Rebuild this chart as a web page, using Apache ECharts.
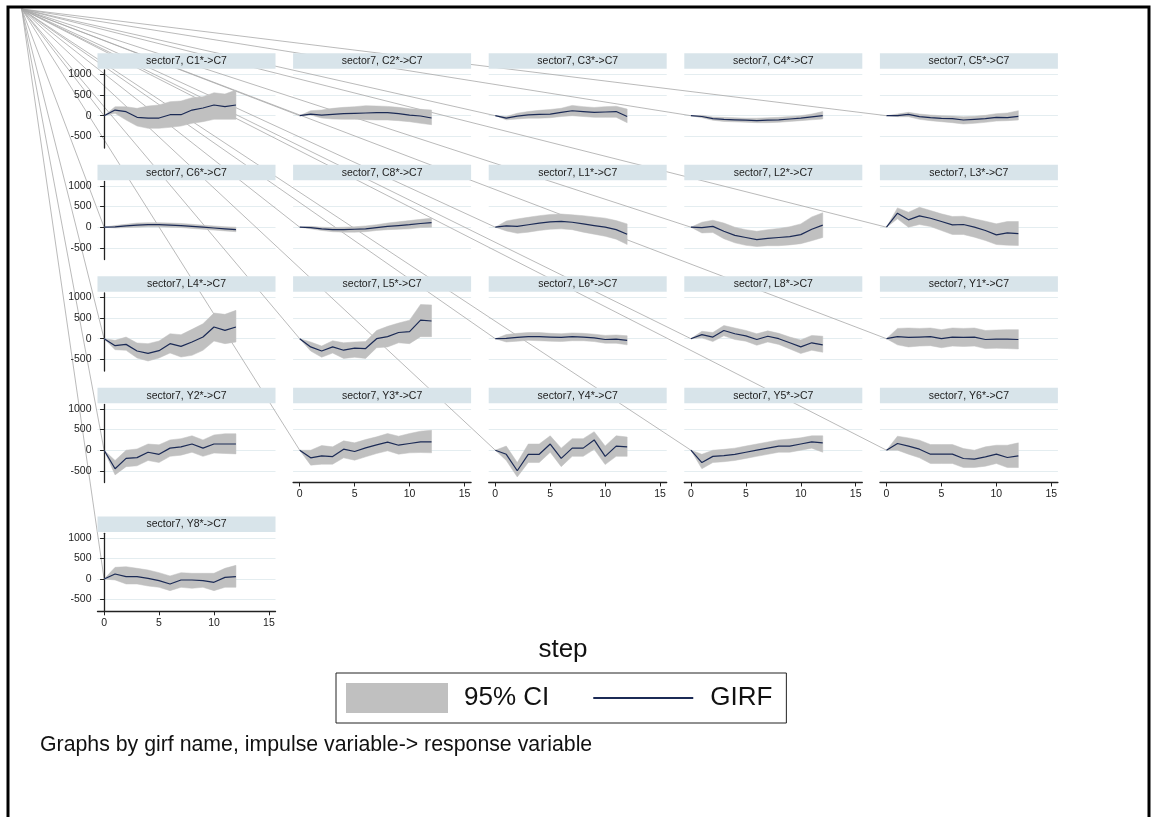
<!DOCTYPE html>
<html>
<head>
<meta charset="utf-8">
<script src="https://cdn.jsdelivr.net/npm/echarts@6/dist/echarts.min.js"></script>
<style>
  html, body { margin: 0; padding: 0; background: #fff; }
  #main { width: 1154px; height: 817px; }
</style>
</head>
<body>
<div id="main"></div>
<script>
// steps and axis ticks
const steps = [0, 1, 2, 3, 4, 5, 6, 7, 8, 9, 10, 11, 12];
const xTicks = [0, 5, 10, 15];
const yTicks = [-500, 0, 500, 1000];

// GIRF point estimates and 95% bounds, one set per panel
const girf_C1 = [0, 137, 97, -40, -57, -57, 24, 24, 137, 186, 259, 218, 259];
const lo_C1 = [0, 57, -105, -251, -307, -307, -283, -251, -186, -146, -89, -89, -89];
const hi_C1 = [0, 218, 218, 178, 235, 259, 340, 356, 437, 461, 558, 526, 623];

const girf_C2 = [0, 40, 16, 32, 49, 57, 65, 73, 73, 49, 16, -8, -57];
const lo_C2 = [0, 16, -57, -81, -89, -89, -97, -105, -105, -121, -146, -186, -218];
const hi_C2 = [0, 121, 138, 178, 202, 218, 243, 235, 226, 202, 170, 154, 138];

const girf_C3 = [0, -60, -10, 20, 30, 40, 80, 120, 100, 80, 90, 100, -20];
const lo_C3 = [0, -100, -80, -60, -60, -50, -20, 0, -20, -40, -40, -40, -170];
const hi_C3 = [0, -20, 60, 100, 130, 150, 180, 250, 220, 200, 220, 230, 160];

const girf_C4 = [0, -20, -70, -90, -100, -110, -120, -110, -100, -80, -60, -30, 0];
const lo_C4 = [0, -50, -110, -140, -150, -160, -170, -170, -160, -140, -120, -100, -80];
const hi_C4 = [0, 10, -30, -40, -50, -60, -60, -50, -40, -20, 0, 40, 100];

const girf_C5 = [0, 0, 32, -24, -49, -65, -73, -105, -89, -73, -40, -49, -16];
const lo_C5 = [0, -24, -24, -89, -121, -146, -170, -202, -186, -162, -130, -121, -105];
const hi_C5 = [0, 40, 81, 40, 16, 0, -8, -24, -16, 8, 49, 65, 121];

const girf_C6 = [0, 10, 30, 50, 60, 60, 50, 40, 20, 0, -20, -40, -60];
const lo_C6 = [0, -20, -10, 0, 10, 10, 0, -10, -30, -50, -70, -90, -110];
const hi_C6 = [0, 40, 70, 100, 110, 110, 100, 90, 70, 50, 30, 10, 0];

const girf_C8 = [0, -10, -40, -60, -60, -50, -40, -10, 20, 40, 60, 90, 110];
const lo_C8 = [0, -40, -80, -110, -120, -120, -110, -80, -60, -50, -40, -10, 0];
const hi_C8 = [0, 20, 0, -10, 0, 10, 30, 60, 100, 130, 160, 190, 220];

const girf_L1 = [0, 30, 20, 60, 100, 130, 140, 120, 80, 40, 0, -60, -170];
const lo_L1 = [0, -90, -150, -120, -80, -50, -40, -60, -120, -170, -220, -290, -420];
const hi_L1 = [0, 150, 200, 240, 280, 310, 320, 300, 280, 250, 220, 160, 80];

const girf_L2 = [0, -10, 20, -100, -200, -250, -300, -270, -250, -230, -180, -50, 50];
const lo_L2 = [0, -140, -130, -280, -380, -440, -470, -450, -450, -430, -400, -330, -250];
const hi_L2 = [0, 120, 170, 100, 0, -60, -100, -60, -30, 10, 80, 250, 350];

const girf_L3 = [0, 340, 178, 275, 218, 138, 57, 65, 0, -81, -186, -138, -154];
const lo_L3 = [0, 202, 0, 65, 16, -81, -178, -178, -243, -324, -421, -437, -445];
const hi_L3 = [0, 469, 364, 485, 405, 324, 259, 267, 202, 146, 81, 138, 138];

const girf_L4 = [0, -170, -138, -299, -356, -291, -121, -186, -81, 40, 283, 202, 283];
const lo_L4 = [0, -267, -283, -469, -542, -469, -348, -445, -405, -283, -57, -121, -81];
const hi_L4 = [0, -40, 40, -105, -121, -57, 121, 97, 227, 364, 623, 591, 688];

const girf_L5 = [0, -200, -300, -200, -280, -230, -240, 0, 50, 150, 170, 450, 430];
const lo_L5 = [0, -300, -450, -350, -480, -450, -480, -220, -200, -100, -120, 50, 50];
const hi_L5 = [0, -80, -180, -50, -100, -80, -70, 200, 300, 380, 450, 830, 820];

const girf_L6 = [0, 10, 30, 50, 50, 40, 30, 50, 40, 20, -20, -10, -40];
const lo_L6 = [0, -80, -60, -40, -50, -60, -70, -50, -50, -70, -110, -110, -150];
const hi_L6 = [0, 100, 130, 150, 150, 130, 120, 140, 130, 110, 80, 90, 70];

const girf_L8 = [0, 100, 40, 200, 120, 70, -20, 60, 0, -100, -200, -100, -150];
const lo_L8 = [0, 20, -70, 70, -20, -60, -160, -80, -140, -250, -360, -280, -330];
const hi_L8 = [0, 180, 150, 320, 260, 200, 120, 190, 130, 40, -30, 80, 60];

const girf_Y1 = [0, 50, 30, 40, 50, 0, 40, 30, 40, -20, -10, -10, -20];
const lo_Y1 = [0, -150, -200, -180, -170, -220, -180, -190, -180, -240, -230, -240, -250];
const hi_Y1 = [0, 250, 260, 250, 260, 220, 260, 250, 260, 200, 210, 220, 220];

const girf_Y2 = [0, -450, -200, -180, -50, -100, 50, 80, 150, 50, 150, 150, 150];
const lo_Y2 = [0, -600, -400, -380, -250, -300, -150, -120, -50, -150, -70, -80, -90];
const hi_Y2 = [0, -250, 0, 30, 150, 130, 250, 280, 350, 250, 370, 400, 400];

const girf_Y3 = [0, -186, -138, -154, 24, -32, 57, 129, 194, 121, 162, 202, 202];
const lo_Y3 = [0, -364, -340, -340, -186, -243, -162, -81, -16, -97, -65, -57, -65];
const hi_Y3 = [0, 0, 113, 81, 227, 178, 259, 324, 405, 340, 405, 461, 485];

const girf_Y4 = [0, -100, -500, -100, -100, 150, -200, 50, 50, 250, -150, 100, 80];
const lo_Y4 = [0, -250, -650, -300, -300, -50, -400, -150, -150, 20, -350, -150, -150];
const hi_Y4 = [0, 100, -300, 150, 150, 350, 50, 280, 280, 450, 100, 350, 320];

const girf_Y5 = [0, -300, -150, -130, -100, -50, 0, 50, 100, 100, 150, 200, 180];
const lo_Y5 = [0, -450, -300, -280, -250, -200, -150, -100, -50, -50, 0, 50, -50];
const hi_Y5 = [0, -100, 0, 20, 50, 100, 150, 200, 250, 270, 300, 350, 350];

const girf_Y6 = [0, 162, 97, 24, -97, -97, -97, -202, -218, -162, -97, -178, -138];
const lo_Y6 = [0, 0, -97, -186, -324, -324, -324, -421, -421, -389, -324, -421, -421];
const hi_Y6 = [0, 340, 299, 243, 138, 138, 138, 40, 0, 81, 121, 121, 178];

const girf_Y8 = [0, 121, 57, 57, 16, -40, -121, -24, -24, -40, -81, 40, 57];
const lo_Y8 = [0, -24, -121, -121, -170, -202, -283, -202, -227, -202, -283, -202, -202];
const hi_Y8 = [0, 283, 299, 259, 218, 154, 73, 154, 138, 138, 138, 259, 332];

const panels = [
  ['C1', girf_C1, lo_C1, hi_C1], ['C2', girf_C2, lo_C2, hi_C2], ['C3', girf_C3, lo_C3, hi_C3],
  ['C4', girf_C4, lo_C4, hi_C4], ['C5', girf_C5, lo_C5, hi_C5], ['C6', girf_C6, lo_C6, hi_C6],
  ['C8', girf_C8, lo_C8, hi_C8], ['L1', girf_L1, lo_L1, hi_L1], ['L2', girf_L2, lo_L2, hi_L2],
  ['L3', girf_L3, lo_L3, hi_L3], ['L4', girf_L4, lo_L4, hi_L4], ['L5', girf_L5, lo_L5, hi_L5],
  ['L6', girf_L6, lo_L6, hi_L6], ['L8', girf_L8, lo_L8, hi_L8], ['Y1', girf_Y1, lo_Y1, hi_Y1],
  ['Y2', girf_Y2, lo_Y2, hi_Y2], ['Y3', girf_Y3, lo_Y3, hi_Y3], ['Y4', girf_Y4, lo_Y4, hi_Y4],
  ['Y5', girf_Y5, lo_Y5, hi_Y5], ['Y6', girf_Y6, lo_Y6, hi_Y6], ['Y8', girf_Y8, lo_Y8, hi_Y8]
];

const FONT = "'Liberation Sans', Arial, sans-serif";
const GRID_COLOR = '#e4edf0';
const BAND_COLOR = '#c0c0c0';
const LINE_COLOR = '#1b2a55';

// panel layout (5 columns)
const colLeft = c => 97.5 + c * 195.6;
const rowTop = r => r < 4 ? 70 + r * 111.5 : 533.3;
const GW = 178, GH = 78;

let myChart = echarts.init(document.getElementById('main'));

// CI band: one polygon through all the bounds of a panel
function renderBand(params, api) {
  if (params.dataIndexInside !== 0) return null;
  const n = params.dataInsideLength;
  let upper = [], lower = [];
  for (let j = 0; j < n; j++) {
    upper.push(api.coord([api.value(0, j), api.value(2, j)]));
    lower.push(api.coord([api.value(0, j), api.value(1, j)]));
  }
  return {
    type: 'polygon',
    shape: { points: upper.concat(lower.reverse()) },
    style: { fill: BAND_COLOR, stroke: BAND_COLOR, lineWidth: 0.5 }
  };
}

let grids = [], xAxes = [], yAxes = [], series = [];
panels.forEach((p, i) => {
  const r = Math.floor(i / 5), c = i % 5;
  const firstCol = c === 0;
  const bottom = (r === 3 && c > 0) || r === 4;
  grids.push({ left: colLeft(c), top: rowTop(r), width: GW, height: GH });
  xAxes.push({
    type: 'value', gridIndex: i, min: -0.6, max: 15.6,
    axisLine: { show: bottom, onZero: false, lineStyle: { color: '#222', width: 1.3 } },
    axisTick: { show: bottom, length: 4, customValues: xTicks, lineStyle: { color: '#222' } },
    axisLabel: { show: bottom, customValues: xTicks, margin: 6, fontSize: 10.5, color: '#222', fontFamily: FONT },
    splitLine: { show: false }
  });
  yAxes.push({
    type: 'value', gridIndex: i, min: -785, max: 1110,
    axisLine: { show: firstCol, lineStyle: { color: '#222', width: 1.3 } },
    axisTick: { show: firstCol, length: 4, customValues: yTicks, lineStyle: { color: '#222' } },
    axisLabel: {
      show: firstCol, customValues: yTicks, margin: 6, fontSize: 10.5, color: '#222', fontFamily: FONT,
      formatter: v => String(v)
    },
    splitLine: { show: false }
  });
  const girf = p[1], lo = p[2], hi = p[3];
  series.push({
    name: '95% CI', type: 'custom', xAxisIndex: i, yAxisIndex: i, silent: true,
    color: BAND_COLOR, renderItem: renderBand,
    encode: { x: 0, y: [1, 2] },
    data: steps.map((s, k) => [s, lo[k], hi[k]]),
    z: 2
  });
  series.push({
    name: 'GIRF', type: 'line', xAxisIndex: i, yAxisIndex: i,
    symbol: 'none', silent: true, color: LINE_COLOR, lineStyle: { color: LINE_COLOR, width: 1.2 },
    data: steps.map((s, k) => [s, girf[k]]),
    markLine: {
      silent: true, symbol: 'none', label: { show: false }, z: 0,
      lineStyle: { color: GRID_COLOR, width: 1.2, type: 'solid' },
      data: yTicks.map(v => ({ yAxis: v }))
    },
    z: 3
  });
});

let option = {
  animation: false,
  backgroundColor: '#fff',
  textStyle: { fontFamily: FONT },
  grid: grids,
  xAxis: xAxes,
  yAxis: yAxes,
  legend: {
    left: 336, top: 673, orient: 'horizontal',
    padding: [10, 14, 10, 10], itemGap: 44, itemWidth: 102, itemHeight: 30,
    borderColor: '#222', borderWidth: 1, selectedMode: false,
    textStyle: { fontSize: 26, color: '#111', fontFamily: FONT, padding: [0, 0, 0, 11] },
    data: [
      { name: '95% CI', icon: 'rect', itemStyle: { color: BAND_COLOR, borderWidth: 0 } },
      {
        name: 'GIRF',
        icon: 'path://M0,0 H0.01 V0.01 H0 Z M0,14 H100 V16 H0 Z M99.99,29.99 H100 V30 H99.99 Z',
        itemStyle: { color: LINE_COLOR, borderWidth: 0 }
      }
    ]
  },
  series: series
};
myChart.setOption(option);

// strip headers, fan lines from the corner, titles and the frame
let graphics = [];
panels.forEach((p, i) => {
  const r = Math.floor(i / 5), c = i % 5;
  const x0 = colLeft(c), y0 = rowTop(r) - 16.7;
  graphics.push({
    type: 'rect', z: 50, shape: { x: x0, y: y0, width: GW, height: 15.5 },
    style: { fill: '#d8e4ea' }
  });
  graphics.push({
    type: 'text', z: 51, x: x0 + GW / 2, y: y0 + 8,
    style: { text: 'sector7, ' + p[0] + '*->C7', fill: '#222', font: '10.5px ' + FONT, align: 'center', verticalAlign: 'middle' }
  });
  const pt = myChart.convertToPixel({ gridIndex: i }, [steps[0], p[1][0]]);
  graphics.push({
    type: 'line', z: 0, silent: true,
    shape: { x1: 21.7, y1: 9, x2: pt[0], y2: pt[1] },
    style: { stroke: '#a8a8a8', lineWidth: 0.8 }
  });
});
graphics.push({
  type: 'text', z: 51, x: 563, y: 650,
  style: { text: 'step', fill: '#111', font: '26px ' + FONT, align: 'center', verticalAlign: 'middle' }
});
graphics.push({
  type: 'text', z: 51, x: 40, y: 745,
  style: { text: 'Graphs by girf name, impulse variable-> response variable', fill: '#111', font: '21.3px ' + FONT, align: 'left', verticalAlign: 'middle' }
});
graphics.push({
  type: 'rect', z: 60, silent: true, shape: { x: 8, y: 7, width: 1141, height: 830 },
  style: { fill: null, stroke: '#000', lineWidth: 3 }
});
myChart.setOption({ graphic: graphics });
</script>
</body>
</html>
